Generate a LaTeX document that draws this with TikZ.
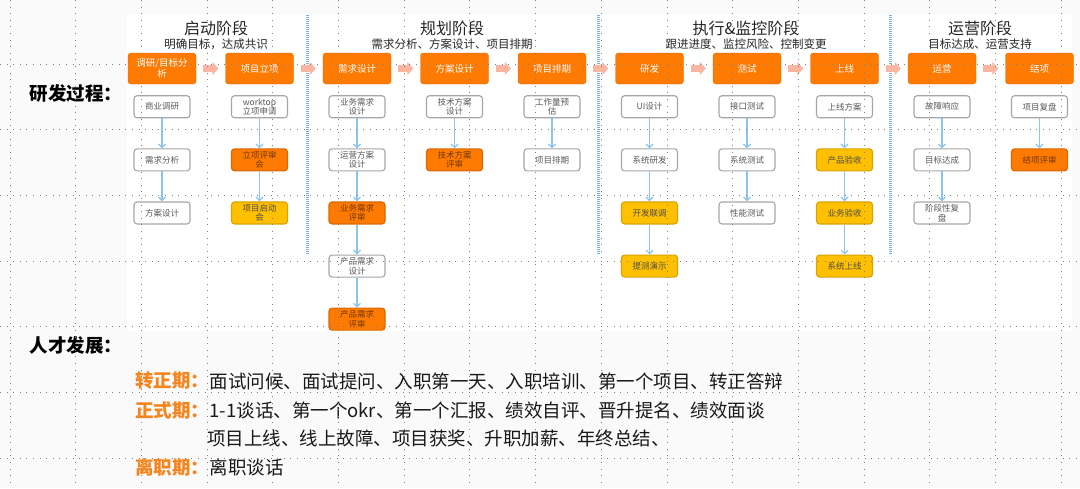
\documentclass[tikz,border=0pt]{standalone}
\usepackage{fontspec}
\setmainfont{Noto Sans CJK SC}
\usepackage{xcolor}
\usetikzlibrary{arrows.meta,positioning,calc}
\definecolor{rdorange}{RGB}{255,122,0}
\definecolor{rdamber}{RGB}{255,192,0}
\definecolor{rdsalmon}{RGB}{250,182,160}
\definecolor{rdblue}{RGB}{140,196,236}
\definecolor{rdsep}{RGB}{120,175,230}
\definecolor{rdlabel}{RGB}{246,133,30}
\tikzset{
  stage/.style={rectangle, rounded corners=3pt, fill=rdorange, draw=rdorange!90!black,
    line width=0.4pt, minimum width=68pt, minimum height=31pt, text=white, align=center,
    font=\fontsize{9.5}{11}\selectfont, inner sep=1pt},
  sub/.style={rectangle, rounded corners=3pt, draw=black!35, line width=1.1pt, fill=white,
    minimum width=56pt, minimum height=22pt, text=black!65, align=center,
    font=\fontsize{8.5}{9.5}\selectfont, inner sep=1pt},
  subo/.style={sub, fill=rdorange, draw=rdorange!85!black, text=black!55!rdorange},
  suba/.style={sub, fill=rdamber, draw=rdamber!85!black, text=black!70},
  phase/.style={font=\fontsize{16}{18}\selectfont, text=black!85},
  goal/.style={font=\fontsize{11.5}{13}\selectfont, text=black!85},
  lead/.style={font=\fontsize{18.5}{20}\selectfont\bfseries, text=black, inner sep=0pt},
  era/.style={font=\fontsize{18.5}{20}\selectfont\bfseries, text=rdlabel, inner sep=0pt, anchor=west},
  body/.style={font=\fontsize{18.5}{20}\selectfont, text=black!90, inner sep=0pt, anchor=west},
  flow/.style={-{Triangle[width=13pt,length=6pt]}, line width=7pt, draw=rdsalmon,
    shorten <=7pt, shorten >=7pt},
  down/.style={-{Straight Barb[length=3.5pt,width=7pt,line width=1.2pt]}, line width=1.6pt, draw=rdblue},
  sep/.style={line width=3pt, draw=rdsep, dash pattern=on 1pt off 1pt},
  gridline/.style={draw=black!50, line width=1pt, dash pattern=on 1pt off 5.6pt},
}

\begin{document}
\begin{tikzpicture}[x=1pt, y=-1pt, node distance=30pt and 29.1pt]
  \useasboundingbox (0,0) rectangle (1080,488);
  \fill[black!2] (0,0) rectangle (1080,488);
  \fill[white] (127,14) rectangle (1072,331);

  % phases
  \node[phase] (t1) at (216,28) {启动阶段};
  \node[goal] (s1) at (216,44) {明确目标，达成共识};
  \node[phase] (t2) at (452,28) {规划阶段};
  \node[goal] (s2) at (452,44) {需求分析、方案设计、项目排期};
  \node[phase] (t3) at (746,28) {执行\&监控阶段};
  \node[goal] (s3) at (746,44) {跟进进度、监控风险、控制变更};
  \node[phase] (t4) at (980,28) {运营阶段};
  \node[goal] (s4) at (980,44) {目标达成、运营支持};
  \draw[sep] (307,15) -- (307,255);
  \draw[sep] (598,15) -- (598,255);
  \draw[sep] (890,15) -- (890,255);

  % main flow
  \node[stage] (A) at (162,68.5) {调研/目标分\\析};
  \node[stage, right=of A] (B) {项目立项};
  \node[stage, right=of B] (C) {需求设计};
  \node[stage, right=of C] (D) {方案设计};
  \node[stage, right=of D] (E) {项目排期};
  \node[stage, right=of E] (F) {研发};
  \node[stage, right=of F] (G) {测试};
  \node[stage, right=of G] (H) {上线};
  \node[stage, right=of H] (I) {运营};
  \node[stage, right=of I] (J) {结项};
  \draw[flow] (A) -- (B);
  \draw[flow] (B) -- (C);
  \draw[flow] (C) -- (D);
  \draw[flow] (D) -- (E);
  \draw[flow] (E) -- (F);
  \draw[flow] (F) -- (G);
  \draw[flow] (G) -- (H);
  \draw[flow] (H) -- (I);
  \draw[flow] (I) -- (J);

  % tasks
  \node[sub, below=11pt of A] (a1) {商业调研};
  \node[sub, below=of a1] (a2) {需求分析};
  \node[sub, below=of a2] (a3) {方案设计};
  \node[sub, below=11pt of B] (b1) {worktop\\立项申请};
  \node[subo, below=of b1] (b2) {立项评审\\会};
  \node[suba, below=of b2] (b3) {项目启动\\会};
  \node[sub, below=11pt of C] (c1) {业务需求\\设计};
  \node[sub, below=of c1] (c2) {运营方案\\设计};
  \node[subo, below=of c2] (c3) {业务需求\\评审};
  \node[sub, below=of c3] (c4) {产品需求\\设计};
  \node[subo, below=of c4] (c5) {产品需求\\评审};
  \node[sub, below=11pt of D] (d1) {技术方案\\设计};
  \node[subo, below=of d1] (d2) {技术方案\\评审};
  \node[sub, below=11pt of E] (e1) {工作量预\\估};
  \node[sub, below=of e1] (e2) {项目排期};
  \node[sub, below=11pt of F] (f1) {UI设计};
  \node[sub, below=of f1] (f2) {系统研发};
  \node[suba, below=of f2] (f3) {开发联调};
  \node[suba, below=of f3] (f4) {提测演示};
  \node[sub, below=11pt of G] (g1) {接口测试};
  \node[sub, below=of g1] (g2) {系统测试};
  \node[sub, below=of g2] (g3) {性能测试};
  \node[sub, below=11pt of H] (h1) {上线方案};
  \node[suba, below=of h1] (h2) {产品验收};
  \node[suba, below=of h2] (h3) {业务验收};
  \node[suba, below=of h3] (h4) {系统上线};
  \node[sub, below=11pt of I] (i1) {故障响应};
  \node[sub, below=of i1] (i2) {目标达成};
  \node[sub, below=of i2] (i3) {阶段性复\\盘};
  \node[sub, below=11pt of J] (j1) {项目复盘};
  \node[subo, below=of j1] (j2) {结项评审};
  \draw[down] (a1) -- (a2);
  \draw[down] (a2) -- (a3);
  \draw[down] (b1) -- (b2);
  \draw[down] (b2) -- (b3);
  \draw[down] (c1) -- (c2);
  \draw[down] (c2) -- (c3);
  \draw[down] (c3) -- (c4);
  \draw[down] (c4) -- (c5);
  \draw[down] (d1) -- (d2);
  \draw[down] (e1) -- (e2);
  \draw[down] (f1) -- (f2);
  \draw[down] (f2) -- (f3);
  \draw[down] (f3) -- (f4);
  \draw[down] (g1) -- (g2);
  \draw[down] (g2) -- (g3);
  \draw[down] (h1) -- (h2);
  \draw[down] (h2) -- (h3);
  \draw[down] (h3) -- (h4);
  \draw[down] (i1) -- (i2);
  \draw[down] (i2) -- (i3);
  \draw[down] (j1) -- (j2);

  % talent
  \node[lead] (rd) at (76,93) {研发过程：};
  \node[lead] (rc) at (76,345) {人才发展：};
  \node[era] (p1) at (135,381) {转正期：};
  \node[body, right=0pt of p1] (q1) {面试问候、面试提问、入职第一天、入职培训、第一个项目、转正答辩};
  \node[era] (p2) at (135,410) {正式期：};
  \node[body, right=0pt of p2] (q2) {1-1谈话、第一个okr、第一个汇报、绩效自评、晋升提名、绩效面谈};
  \node[body] (q3) at (207,438) {项目上线、线上故障、项目获奖、升职加薪、年终总结、};
  \node[era] (p3) at (135,467) {离职期：};
  \node[body, right=0pt of p3] (q4) {离职谈话};

  % grid
  \foreach \gx in {0,...,16}
    \draw[gridline] ({10+65.7*\gx},0) -- ++(0,488);
  \foreach \gy in {0,...,6}
    \draw[gridline] (0,{64+65.7*\gy}) -- ++(1080,0);
\end{tikzpicture}
\end{document}
